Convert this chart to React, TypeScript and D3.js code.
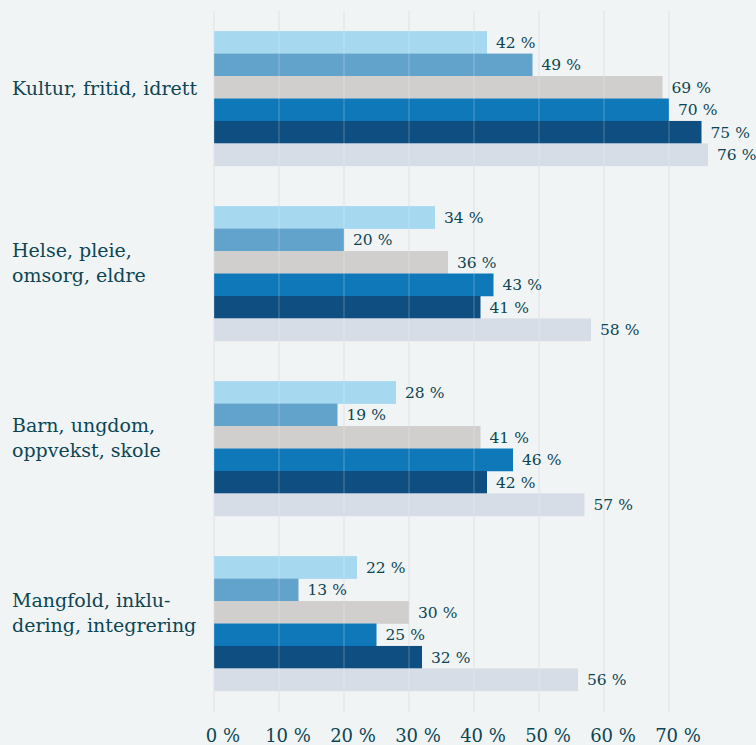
import React from "react";
import * as d3 from "d3";

const categories = [
  ["Kultur, fritid, idrett"],
  ["Helse, pleie,", "omsorg, eldre"],
  ["Barn, ungdom,", "oppvekst, skole"],
  ["Mangfold, inklu-", "dering, integrering"],
];
const seriesNames = ["S1", "S2", "S3", "S4", "S5", "S6"];
const values = [
  [42, 49, 69, 70, 75, 76],
  [34, 20, 36, 43, 41, 58],
  [28, 19, 41, 46, 42, 57],
  [22, 13, 30, 25, 32, 56],
];
const xTicks = [0, 10, 20, 30, 40, 50, 60, 70];
const colors = ["#a6d8f0", "#62a3cc", "#d0cfcd", "#0f78b9", "#0f4e80", "#d6dde7"];

const W = 756;
const H = 745;
const TEXT = "#0c4654";
const FONT = "'DejaVu Serif', serif";

export default function App() {
  const x = d3.scaleLinear().domain([0, 70]).range([214, 669]);
  const y = d3
    .scaleBand<number>()
    .domain(d3.range(categories.length))
    .range([11, 711])
    .paddingInner(0.23)
    .paddingOuter(0.115);
  const inner = d3
    .scaleBand<number>()
    .domain(d3.range(seriesNames.length))
    .range([0, y.bandwidth()]);

  return (
    <svg
      width={W}
      height={H}
      style={{ position: "absolute", left: 0, top: 0 }}
      xmlns="http://www.w3.org/2000/svg"
    >
      <rect x={0} y={0} width={W} height={H} fill="#f1f4f5" />
      {xTicks.map((t) => (
        <line key={"g" + t} x1={x(t)} x2={x(t)} y1={11} y2={712} stroke="#e1e5e7" strokeWidth={1.5} />
      ))}
      {values.map((row, ci) => (
        <g key={ci} transform={`translate(0,${y(ci)})`}>
          {row.map((v, si) => (
            <g key={si}>
              <rect
                x={x(0)}
                y={inner(si)}
                width={x(v) - x(0)}
                height={inner.bandwidth() + 0.3}
                fill={colors[si]}
              />
            </g>
          ))}
        </g>
      ))}
      {xTicks.map((t) => (
        <line key={"o" + t} x1={x(t)} x2={x(t)} y1={11} y2={712} stroke="#ffffff" strokeOpacity={0.18} strokeWidth={1.5} />
      ))}
      {values.map((row, ci) => (
        <g key={"l" + ci} transform={`translate(0,${y(ci)})`}>
          {row.map((v, si) => (
            <text
              key={si}
              x={x(v) + 9}
              y={(inner(si) as number) + inner.bandwidth() / 2}
              dy="0.35em"
              fontFamily={FONT}
              fontSize={15.5}
              fill={TEXT}
            >
              {v} %
            </text>
          ))}
        </g>
      ))}
      {categories.map((lines, ci) => {
        const cy = (y(ci) as number) + y.bandwidth() / 2 - 12;
        const lh = 25;
        const first = cy - ((lines.length - 1) * lh) / 2 + 8;
        return (
          <text key={"c" + ci} fontFamily={FONT} fontSize={19} fill={TEXT}>
            {lines.map((ln, li) => (
              <tspan key={li} x={12} y={first + li * lh}>
                {ln}
              </tspan>
            ))}
          </text>
        );
      })}
      {xTicks.map((t) => (
        <text
          key={"t" + t}
          x={x(t) + 9}
          y={742}
          textAnchor="middle"
          fontFamily={FONT}
          fontSize={18}
          fill={TEXT}
        >
          {t} %
        </text>
      ))}
    </svg>
  );
}
